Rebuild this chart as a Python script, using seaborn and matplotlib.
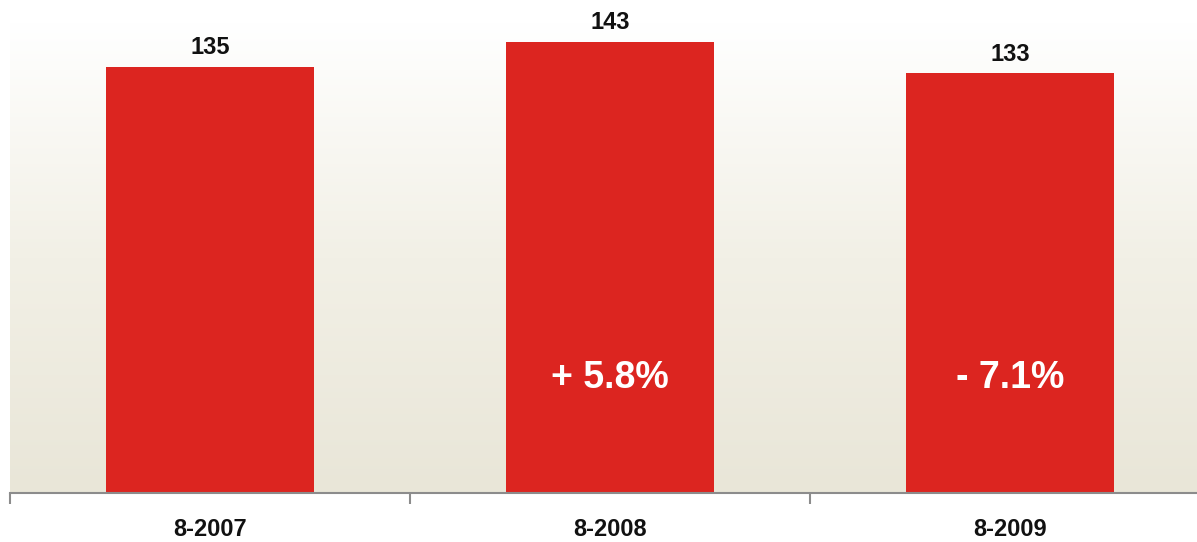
import numpy as np
import pandas as pd
import matplotlib
matplotlib.use("Agg")
import matplotlib.pyplot as plt
from matplotlib.colors import LinearSegmentedColormap
import seaborn as sns

sns.set_style("white")
plt.rcParams['font.family'] = ['Liberation Sans', 'DejaVu Sans']

# data
periods = ['8-2007', '8-2008', '8-2009']
values = [135, 143, 133]
changes = ['', '+ 5.8%', '- 7.1%']

df = pd.DataFrame({'period': periods, 'value': values})

fig = plt.figure(figsize=(11.97, 5.42), dpi=100)
ax = fig.add_axes([10/1197, 49/542, 1200/1197, 471/542])

# background gradient white -> beige
cmap = LinearSegmentedColormap.from_list('bg', ['#e9e6d8', '#f2f0e6', '#ffffff'])
grad = np.linspace(0, 1, 256).reshape(-1, 1)
ax.imshow(grad, aspect='auto', cmap=cmap, origin='lower',
          extent=[-0.5, 2.5, 0, 149.3], zorder=0)

sns.barplot(data=df, x='period', y='value', color='#dc2520', saturation=1,
            width=0.52, linewidth=0, ax=ax, zorder=2)

ax.set_xlim(-0.5, 2.5)
ax.set_ylim(0, 149.3)

for i, v in enumerate(values):
    ax.annotate(str(v), (i, v), xytext=(0, 5.5), textcoords='offset points',
                ha='center', va='bottom', fontsize=17, fontweight='bold',
                color='#111111')
    if changes[i]:
        ax.text(i, 36.5, changes[i], ha='center', va='center', fontsize=27,
                fontweight='bold', color='white', zorder=3)

for s in ['top', 'right', 'left']:
    ax.spines[s].set_visible(False)
ax.spines['bottom'].set_color('#8c8c8c')
ax.spines['bottom'].set_linewidth(1.5)

ax.set_yticks([])
ax.set_xticks([-0.5, 0.5, 1.5, 2.5])
ax.set_xticklabels([])
ax.tick_params(axis='x', which='major', length=8, width=1.5, color='#8c8c8c',
               direction='out', bottom=True)
ax.set_xticks([0, 1, 2], minor=True)
ax.set_xticklabels(periods, minor=True, fontsize=17, fontweight='bold',
                   color='#111111')
ax.tick_params(axis='x', which='minor', length=0, pad=18)
ax.set_xlabel('')
ax.set_ylabel('')

fig.savefig('out.png', dpi=100)
